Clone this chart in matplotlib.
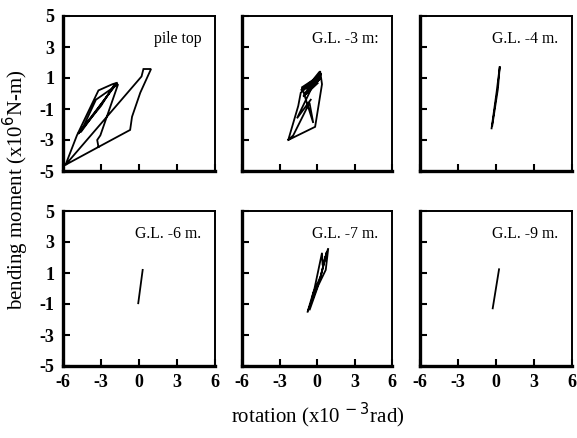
import matplotlib
matplotlib.use("Agg")
import matplotlib.pyplot as plt

plt.rcParams['font.family'] = ['Liberation Serif', 'DejaVu Serif']

# ---- data (rotation x1e-3 rad, bending moment x1e6 N-m) ----
top_rot = [-5.80, -3.20, -0.70, -0.55, 0.10, 0.95, 0.35, 0.20, -5.80, -4.90,
           -3.20, -2.10, -1.70, -4.80, -3.00, -2.00, -1.80, -4.60, -3.40, -1.65,
           -3.05, -3.30, -3.20]
top_mom = [-4.60, -3.45, -2.35, -1.50, 0.05, 1.58, 1.58, 1.10, -4.60, -2.70,
           0.20, 0.60, 0.70, -2.60, -0.80, 0.50, 0.65, -2.50, -0.40, 0.60,
           -2.70, -3.00, -3.45]

gl3_rot = [-2.30, -0.15, 0.40, 0.25, 0.15, -1.30, -1.50, -2.30, -1.90, -0.60,
           -0.30, -1.20, 0.30, -1.00, 0.20, -1.30, 0.35, -0.90, 0.10, -1.10,
           0.30, -0.70, 0.20, -1.60, -0.50]
gl3_mom = [-3.00, -2.15, 0.60, 1.45, 1.10, 0.05, -0.80, -3.00, -2.70, -0.60,
           -1.90, 0.40, 1.20, 0.00, 0.90, 0.20, 1.30, 0.30, 0.70, -0.20,
           1.00, 0.50, 1.40, -1.60, -0.40]

gl4_rot = [-0.35, 0.05, 0.30, 0.15, -0.30]
gl4_mom = [-2.25, 0.10, 1.75, 0.30, -2.10]

gl6_rot = [-0.06, 0.29]
gl6_mom = [-0.95, 1.20]

gl7_rot = [-0.75, -0.20, 0.40, 0.45, 0.90, 0.70, 0.10, -0.60, -0.30, 0.30, 0.80, 0.20, -0.70]
gl7_mom = [-1.50, 0.00, 2.30, 1.50, 2.60, 1.20, 0.20, -1.40, -0.30, 0.80, 2.40, 0.50, -1.40]

gl9_rot = [-0.26, 0.24]
gl9_mom = [-1.28, 1.24]

panels = [
    ("pile top", top_rot, top_mom),
    ("G.L. -3 m:", gl3_rot, gl3_mom),
    ("G.L. -4 m.", gl4_rot, gl4_mom),
    ("G.L. -6 m.", gl6_rot, gl6_mom),
    ("G.L. -7 m.", gl7_rot, gl7_mom),
    ("G.L. -9 m.", gl9_rot, gl9_mom),
]

x_ticks = [-6, -3, 0, 3, 6]
y_ticks = [-5, -3, -1, 1, 3, 5]

fig = plt.figure(figsize=(5.77, 4.38), dpi=100)

lefts = [63 / 577, 242 / 577, 420 / 577]
widths = [152 / 577, 150 / 577, 152 / 577]
bottoms = [1 - 171 / 438, 1 - 366 / 438]
height = 155 / 438

for i, (label, xs, ys) in enumerate(panels):
    r, c = divmod(i, 3)
    ax = fig.add_axes([lefts[c], bottoms[r], widths[c], height])
    ax.plot(xs, ys, color='black', lw=1.3, solid_joinstyle='miter')
    ax.set_xlim(-6, 6)
    ax.set_ylim(-5, 5)
    ax.set_xticks(x_ticks)
    ax.set_yticks(y_ticks)
    ax.tick_params(direction='in', length=5, width=1.5, top=False, right=False,
                   labelsize=13, pad=6)
    for s in ('left', 'bottom'):
        ax.spines[s].set_linewidth(2.4)
    for s in ('top', 'right'):
        ax.spines[s].set_linewidth(1.4)
    if r == 0:
        ax.set_xticklabels([])
    else:
        ax.set_xticklabels([str(t) for t in x_ticks], fontweight='bold')
    if c != 0:
        ax.set_yticklabels([])
    else:
        ax.set_yticklabels([str(t) for t in y_ticks], fontweight='bold')
    ax.text(0.91, 0.85, label, transform=ax.transAxes, ha='right', va='center',
            fontsize=11.3)

fig.text(0.028, 0.566, r"bending moment (x10$^{6}$N-m)", rotation=90,
         ha='center', va='center', fontsize=15)
fig.text(0.55, 0.052, r"rotation (x10$^{\,-3}$rad)", ha='center', va='center',
         fontsize=15)

fig.savefig("out.png", dpi=100)
